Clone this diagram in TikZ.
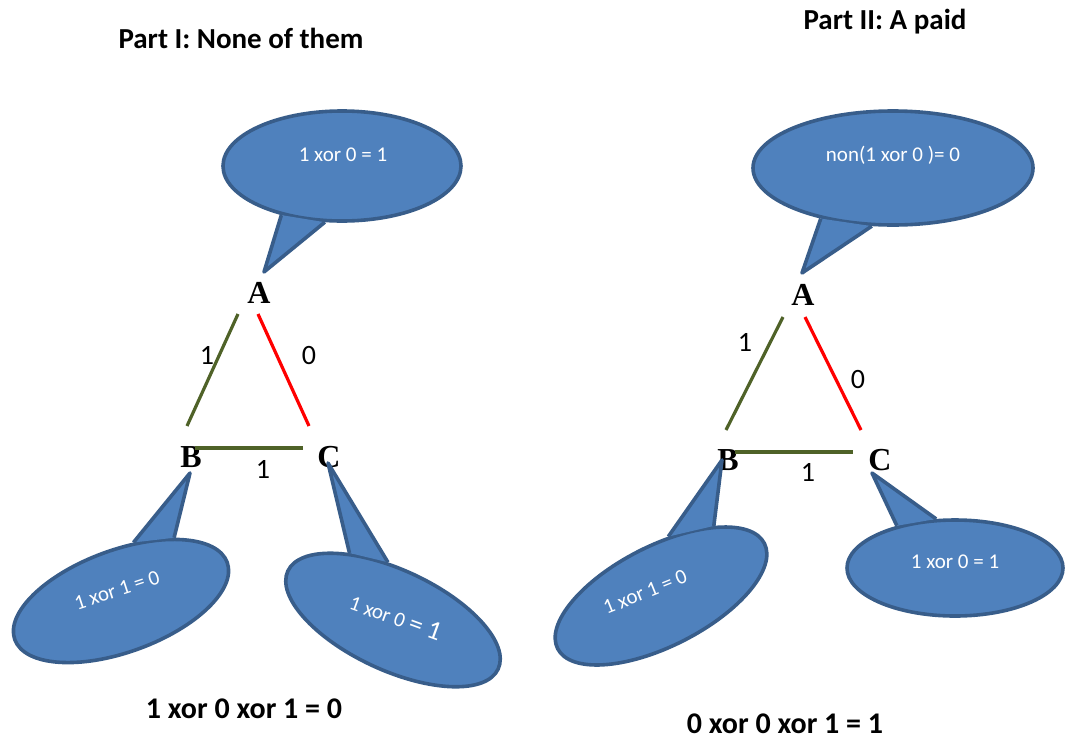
\documentclass[tikz,border=0pt]{standalone}
\usepackage{fontspec}
\setmainfont{Carlito}
\newfontfamily\serifletters{Liberation Serif}
\usetikzlibrary{shapes.geometric}
\definecolor{bubblefill}{RGB}{79,129,189}
\definecolor{bubbleline}{RGB}{56,93,138}
\definecolor{olivegreen}{RGB}{79,98,40}
\definecolor{redline}{RGB}{255,0,0}
\begin{document}
\begin{tikzpicture}[x=1pt,y=-1pt,
  bubble/.style={ellipse, draw=bubbleline, fill=bubblefill, line width=3.6pt, inner sep=0pt},
  tailstyle/.style={draw=bubbleline, fill=bubblefill, line width=3.6pt, line join=round},
  btext/.style={text=white, font=\fontsize{21}{25}\selectfont, inner sep=0pt},
  vlabel/.style={font=\serifletters\bfseries\fontsize{32}{38}\selectfont, inner sep=0pt, anchor=base},
  elabel/.style={font=\fontsize{28}{32}\selectfont, inner sep=0pt, anchor=base},
  titletext/.style={font=\bfseries\fontsize{29}{34}\selectfont, inner sep=0pt, anchor=base},
  sumtext/.style={font=\bfseries\fontsize{30}{35}\selectfont, inner sep=0pt, anchor=base},
  greenedge/.style={draw=olivegreen, line width=3.2pt},
  rededge/.style={draw=redline, line width=3.2pt}]
\useasboundingbox (0,0) rectangle (1083,739);

% ---------------- Part I ----------------
\node[titletext] (title1) at (241,48) {Part I: None of them};
\node[vlabel] (A1) at (259,303) {A};
\node[vlabel] (B1) at (191,467) {B};
\node[vlabel] (C1) at (329,467) {C};
\coordinate (a1l) at (238,314); \coordinate (b1t) at (187,426);
\coordinate (a1r) at (258,314); \coordinate (c1t) at (309,426);
\coordinate (b1r) at (195,448); \coordinate (c1l) at (303,448);
\draw[greenedge] (a1l) -- (b1t);
\draw[rededge] (a1r) -- (c1t);
\draw[greenedge] (b1r) -- (c1l);
\node[elabel] (e1ab) at (207,364) {1};
\node[elabel] (e1ac) at (309,364) {0};
\node[elabel] (e1bc) at (263,478) {1};

\node[bubble, minimum width=238, minimum height=110] (bA1) at (342,166) {};
\coordinate (tipA1) at (264,272);
\path[tailstyle] (bA1.219.7) -- (tipA1) -- (bA1.253.4);
\node[btext, anchor=base] (tA1) at (343,161) {1 xor 0 = 1};

\node[bubble, minimum width=226, minimum height=102, rotate=20] (bB1) at (121,601) {};
\coordinate (tipB1) at (190,473);
\path[tailstyle] (bB1.58.3) -- (tipB1) -- (bB1.30.1);
\node[btext, rotate=18] (tB1) at (117,590) {1 xor 1 = 0};

\node[bubble, minimum width=232, minimum height=100, rotate=-25] (bC1) at (393,620) {};
\coordinate (tipC1) at (328,463);
\path[tailstyle] (bC1.148.5) -- (tipC1) -- (bC1.120.9);
\node[btext, rotate=-20] (tC1) at (396,617) {1 xor 0 {\fontsize{27}{30}\selectfont = 1}};

\node[sumtext] (sum1) at (244,718) {1 xor 0 xor 1 = 0};

% ---------------- Part II ----------------
\node[titletext] (title2) at (885,29) {Part II: A paid};
\node[vlabel] (A2) at (803,305) {A};
\node[vlabel] (B2) at (728,470) {B};
\node[vlabel] (C2) at (880,470) {C};
\coordinate (a2l) at (783,317); \coordinate (b2t) at (726,430);
\coordinate (a2r) at (805,317); \coordinate (c2t) at (861,430);
\coordinate (b2r) at (735,452); \coordinate (c2l) at (853,452);
\draw[greenedge] (a2l) -- (b2t);
\draw[rededge] (a2r) -- (c2t);
\draw[greenedge] (b2r) -- (c2l);
\node[elabel] (e2ab) at (745,351) {1};
\node[elabel] (e2ac) at (858,388) {0};
\node[elabel] (e2bc) at (808,481) {1};

\node[bubble, minimum width=280, minimum height=114] (bA2) at (893,168) {};
\coordinate (tipA2) at (802,273);
\path[tailstyle] (bA2.215) -- (tipA2) -- (bA2.250.7);
\node[btext, anchor=base] (tA2) at (893,161) {non(1 xor 0 )= 0};

\node[bubble, minimum width=232, minimum height=100, rotate=27] (bB2) at (661,596) {};
\coordinate (tipB2) at (722,460);
\path[tailstyle] (bB2.56.1) -- (tipB2) -- (bB2.26.7);
\node[btext, rotate=22] (tB2) at (645,592) {1 xor 1 = 0};

\node[bubble, minimum width=216, minimum height=96] (bC2) at (955,568) {};
\coordinate (tipC2) at (872,473);
\path[tailstyle] (bC2.144.7) -- (tipC2) -- (bC2.111.8);
\node[btext, anchor=base] (tC2) at (955,568) {1 xor 0 = 1};

\node[sumtext] (sum2) at (785,733) {0 xor 0 xor 1 = 1};
\end{tikzpicture}
\end{document}
